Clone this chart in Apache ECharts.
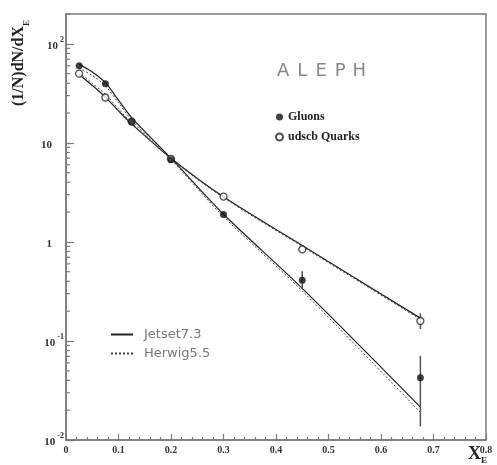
<!DOCTYPE html>
<html><head><meta charset="utf-8">
<script src="https://cdn.jsdelivr.net/npm/echarts@6/dist/echarts.min.js"></script>
<style>html,body{margin:0;padding:0;background:#fff}#c{width:497px;height:465px}</style>
</head><body><div id="c"></div>
<script>
// ---- data ----
const xPoints = [0.025, 0.075, 0.125, 0.2, 0.3, 0.45, 0.675];
const gluons = [60, 39.6, 16.4, 6.74, 1.89, 0.41, 0.0425];
const quarks = [50, 28.7, 16.4, 6.9, 2.87, 0.84, 0.159];
// error bars: [x, low, high]
const gluonErrors = [[0.45, 0.333, 0.506], [0.675, 0.0137, 0.0708]];
const quarkErrors = [[0.675, 0.132, 0.19]];
// model curves
const curveX = [0.025, 0.05, 0.075, 0.1, 0.125, 0.2, 0.3, 0.45, 0.675];
const gluonJetset = [62, 52, 40.5, 27, 18, 7.0, 1.9, 0.34, 0.0215];
const gluonHerwig = [57, 48, 37.5, 25.5, 17, 6.8, 1.8, 0.32, 0.019];
const quarkJetset = [49, 38, 29, 21, 15.5, 7.0, 2.85, 0.92, 0.17];
const quarkHerwig = [51, 40, 31, 22, 16, 6.9, 2.8, 0.9, 0.165];
const xTickLabels = ['0', '0.1', '0.2', '0.3', '0.4', '0.5', '0.6', '0.7', '0.8'];
const yMajorTicks = [0.01, 0.1, 1, 10, 100];
const yMajorLabels = ['{b|10}{s|-2}', '{b|10}{s|-1}', '{b|1}{g|}', '{b|10}{g|}', '{b|10}{s|2}'];
const yMinorTicks = [];
[0.01, 0.1, 1, 10, 100].forEach(d => { for (let k = 2; k <= 9; k++) { const v = +(d * k).toPrecision(3); if (v <= 200) yMinorTicks.push(v); } });

const pairs = (xs, ys) => xs.map((x, i) => [x, ys[i]]);

const serif = 'Liberation Serif';
const frame = '#7a7a7a';

const chart = echarts.init(document.getElementById('c'), null, {renderer: 'canvas'});

const errRender = (params, api) => {
  const p1 = api.coord([api.value(0), api.value(1)]);
  const p2 = api.coord([api.value(0), api.value(2)]);
  return {type: 'line', shape: {x1: p1[0], y1: p1[1], x2: p2[0], y2: p2[1]},
    style: {stroke: '#555', lineWidth: 1.5}};
};
// minor y tick marks placed through the log axis scale
const tickRender = (len) => (params, api) => {
  const p = api.coord([api.value(0), api.value(1)]);
  return {type: 'line', shape: {x1: p[0], y1: p[1], x2: p[0] + len, y2: p[1]},
    style: {stroke: frame, lineWidth: 1.2}};
};

const option = {
  animation: false,
  backgroundColor: '#fff',
  grid: {left: 66, right: 11, top: 14, bottom: 25, show: true, borderColor: frame, borderWidth: 1.5, containLabel: false},
  xAxis: {
    type: 'value', min: 0, max: 0.8, interval: 0.1,
    axisLine: {show: true, lineStyle: {color: frame, width: 1.5}},
    axisTick: {show: true, inside: true, length: 6, lineStyle: {color: frame, width: 1.2}},
    minorTick: {show: true, splitNumber: 5, length: 3, lineStyle: {color: frame, width: 1.2}},
    splitLine: {show: false},
    axisLabel: {
      margin: 5, fontFamily: serif, fontWeight: 'bold', fontSize: 10, color: '#333',
      showMaxLabel: true, showMinLabel: true,
      formatter: v => xTickLabels[Math.round(v * 10)]
    }
  },
  yAxis: {
    type: 'log', logBase: 10, min: 0.01, max: 200,
    axisLine: {show: true, lineStyle: {color: frame, width: 1.5}},
    axisTick: {show: true, inside: true, length: 8, customValues: yMajorTicks, lineStyle: {color: frame, width: 1.2}},
    splitLine: {show: false},
    axisLabel: {
      customValues: yMajorTicks, margin: 2,
      formatter: v => {
        const i = yMajorTicks.findIndex(t => Math.abs(Math.log10(t) - Math.log10(v)) < 0.01);
        return i >= 0 ? yMajorLabels[i] : '';
      },
      rich: {
        b: {fontFamily: serif, fontWeight: 'bold', fontSize: 11, color: '#333', lineHeight: 16, verticalAlign: 'bottom'},
        s: {fontFamily: serif, fontWeight: 'bold', fontSize: 8, color: '#333', lineHeight: 8, verticalAlign: 'top', padding: [0, 0, 0, 2]},
        g: {width: 12}
      }
    }
  },
  legend: [{
    data: ['Gluons', 'udscb Quarks'],
    orient: 'vertical', left: 270, top: 106, itemGap: 8,
    itemWidth: 7, itemHeight: 7,
    textStyle: {fontFamily: serif, fontWeight: 'bold', fontSize: 12, color: '#222'}
  }, {
    data: ['Jetset7.3', 'Herwig5.5'],
    orient: 'vertical', left: 105, top: 323, itemGap: 6,
    itemWidth: 22, itemHeight: 10,
    itemStyle: {opacity: 0},
    textStyle: {fontFamily: 'DejaVu Sans', fontSize: 13, color: '#777', padding: [0, 0, 0, 6]}
  }],
  graphic: [{
    type: 'text', left: 277, top: 62,
    style: {
      text: '{a|A}{a|L}{a|E}{a|P}{a|H}',
      rich: {a: {fontFamily: 'DejaVu Sans', fontSize: 18, fill: '#888', width: 19, align: 'center'}}
    }
  }, {
    type: 'text', x: 21, y: 63, rotation: Math.PI / 2,
    style: {
      text: '{t|(1/N)dN/dX}{e|E}', align: 'center', verticalAlign: 'middle',
      rich: {
        t: {fontFamily: serif, fontWeight: 'bold', fontSize: 16, fill: '#222', lineHeight: 20, verticalAlign: 'top'},
        e: {fontFamily: serif, fontWeight: 'bold', fontSize: 9, fill: '#222', lineHeight: 9, verticalAlign: 'bottom'}
      }
    }
  }, {
    type: 'text', left: 468, top: 445,
    style: {
      text: '{t|X}{e|E}',
      rich: {
        t: {fontFamily: serif, fontWeight: 'bold', fontSize: 18, fill: '#222', lineHeight: 20, verticalAlign: 'top'},
        e: {fontFamily: serif, fontWeight: 'bold', fontSize: 9, fill: '#222', lineHeight: 9, verticalAlign: 'bottom'}
      }
    }
  }],
  series: [
    {type: 'custom', renderItem: tickRender(4), data: yMinorTicks.map(v => [0, v]), encode: {x: 0, y: 1}, silent: true, clip: false, z: 1},
    {name: 'Jetset7.3', type: 'line', smooth: 0.3, showSymbol: false, symbol: 'none', data: pairs(curveX, gluonJetset),
      lineStyle: {color: '#222', width: 1.2}, itemStyle: {color: '#222'}, z: 2},
    {name: 'Jetset7.3', type: 'line', smooth: 0.3, showSymbol: false, symbol: 'none', data: pairs(curveX, quarkJetset),
      lineStyle: {color: '#222', width: 1.2}, itemStyle: {color: '#222'}, z: 2},
    {name: 'Herwig5.5', type: 'line', smooth: 0.3, showSymbol: false, symbol: 'none', data: pairs(curveX, gluonHerwig),
      lineStyle: {color: '#444', width: 1, type: [2, 2]}, itemStyle: {color: '#444'}, z: 2},
    {name: 'Herwig5.5', type: 'line', smooth: 0.3, showSymbol: false, symbol: 'none', data: pairs(curveX, quarkHerwig),
      lineStyle: {color: '#444', width: 1, type: [2, 2]}, itemStyle: {color: '#444'}, z: 2},
    {type: 'custom', renderItem: errRender, data: gluonErrors.concat(quarkErrors), z: 3, encode: {x: 0, y: [1, 2]}},
    {name: 'udscb Quarks', type: 'scatter', symbol: 'circle', symbolSize: 7, data: pairs(xPoints, quarks),
      itemStyle: {color: '#fff', borderColor: '#222', borderWidth: 1.3}, z: 4},
    {name: 'Gluons', type: 'scatter', symbol: 'circle', symbolSize: 7, data: pairs(xPoints, gluons),
      itemStyle: {color: '#111'}, z: 5}
  ]
};
chart.setOption(option);
</script>
</body></html>
